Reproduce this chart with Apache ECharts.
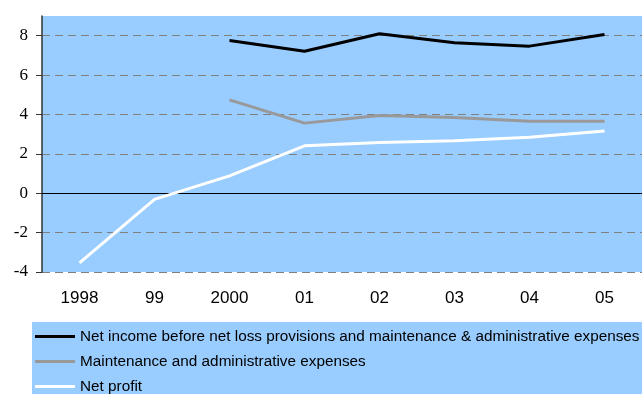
<!DOCTYPE html>
<html>
<head>
<meta charset="utf-8">
<script src="https://cdn.jsdelivr.net/npm/echarts@6/dist/echarts.min.js"></script>
<style>
  html, body { margin: 0; padding: 0; background: #ffffff; }
  #chart { width: 642px; height: 394px; }
</style>
</head>
<body>
<div id="chart"></div>
<script>
// Years on the horizontal axis
const years = ['1998', '99', '2000', '01', '02', '03', '04', '05'];

// Series values (null where no figure exists)
const netIncomeBefore = [null, null, 7.76, 7.21, 8.10, 7.64, 7.47, 8.06];
const maintenanceAdmin = [null, null, 4.74, 3.56, 3.95, 3.84, 3.66, 3.66];
const netProfit = [-3.54, -0.31, 0.88, 2.41, 2.57, 2.67, 2.84, 3.16];

const seriesNames = [
  'Net income before net loss provisions and maintenance & administrative expenses',
  'Maintenance and administrative expenses',
  'Net profit'
];

const chart = echarts.init(document.getElementById('chart'), null, { renderer: 'canvas' });

function lineSeries(name, data, color) {
  return {
    name: name,
    type: 'line',
    data: data,
    symbol: 'none',
    clip: false,
    lineStyle: { color: color, width: 3 },
    itemStyle: { color: color },
    connectNulls: false,
    z: 3
  };
}

const series = [
  lineSeries(seriesNames[0], netIncomeBefore, '#000000'),
  lineSeries(seriesNames[1], maintenanceAdmin, '#999999'),
  lineSeries(seriesNames[2], netProfit, '#ffffff')
];

// zero baseline
series[0].markLine = {
  silent: true,
  symbol: 'none',
  label: { show: false },
  lineStyle: { color: '#000000', width: 1, type: 'solid' },
  data: [{ yAxis: 0 }],
  z: 2
};

chart.setOption({
  animation: false,
  backgroundColor: '#ffffff',
  graphic: [{
    type: 'rect',
    shape: { x: 32, y: 322, width: 610, height: 72 },
    style: { fill: '#99ccff' },
    z: -1
  }],
  grid: {
    left: 42, right: 0, top: 16, bottom: 122,
    show: true, backgroundColor: '#99ccff', borderWidth: 0
  },
  xAxis: {
    type: 'category',
    data: years,
    boundaryGap: true,
    axisLine: { show: false, onZero: false },
    axisTick: { show: false },
    axisLabel: {
      color: '#000000', fontFamily: 'Liberation Sans', fontSize: 17, margin: 18
    },
    splitLine: { show: false }
  },
  yAxis: {
    type: 'value',
    min: -4, max: 9, interval: 2,
    axisLine: { show: true, lineStyle: { color: '#333333', width: 1.5 } },
    axisTick: { show: true, length: 6, lineStyle: { color: '#333333' } },
    axisLabel: {
      color: '#000000', fontFamily: 'Liberation Serif', fontSize: 17, margin: 14,
      showMaxLabel: false
    },
    splitLine: {
      show: true, showMaxLine: false,
      lineStyle: { color: '#808080', type: [8, 5], width: 1 }
    }
  },
  legend: {
    orient: 'vertical',
    left: 35, top: 329,
    icon: 'rect',
    itemWidth: 40, itemHeight: 3,
    itemGap: 10,
    padding: 0,
    textStyle: { color: '#000000', fontFamily: 'Liberation Sans', fontSize: 15.3 },
    data: seriesNames
  },
  series: series
});
</script>
</body>
</html>
